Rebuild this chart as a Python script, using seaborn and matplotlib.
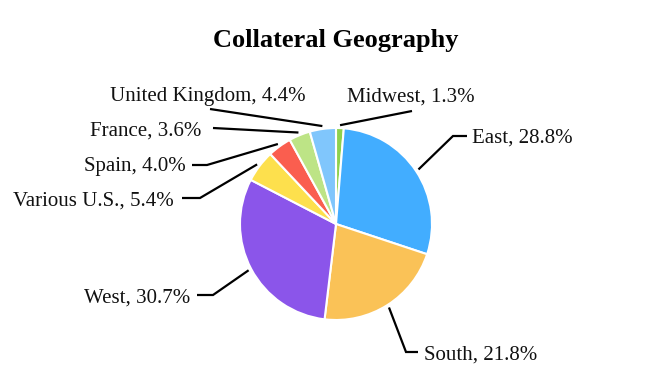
import numpy as np
import matplotlib
matplotlib.use("Agg")
import matplotlib.pyplot as plt
import seaborn as sns

# ---- data ----
categories = ["Midwest", "East", "South", "West", "Various U.S.", "Spain", "France", "United Kingdom"]
shares = [1.3, 28.8, 21.8, 30.7, 5.4, 4.0, 3.6, 4.4]
colors = ["#8ED14D", "#42ADFF", "#FAC257", "#8B55EA", "#FDE04D", "#FA5E4F", "#BDE486", "#80C6FC"]
title = "Collateral Geography"

# ---- layout (pixel coordinates, y from top) ----
W, H = 672, 384
CX, CY, R = 336, 224, 96
# per label: elbow point, end point of leader line, text anchor, alignment
elbows = [(412, 111), (453, 136), (406, 352), (213, 295), (200, 198), (207, 165), (213, 128), (210, 109)]
ends = [(412, 111), (467, 136), (418, 352), (197, 295), (182, 198), (192, 165), (213, 128), (210, 109)]
text_pos = [(347, 97), (472, 138), (424, 355), (190, 298), (174, 201), (186, 166), (201, 131), (306, 97)]
aligns = ["left", "left", "left", "right", "right", "right", "right", "right"]

sns.set_theme(style="white")
plt.rcParams["font.family"] = ["Liberation Serif", "DejaVu Serif"]

fig = plt.figure(figsize=(W / 100, H / 100), dpi=100)
ax = fig.add_axes([0, 0, 1, 1])

def Y(y):
    return H - y

wedges, _ = ax.pie(shares, colors=colors, startangle=90, counterclock=False,
                   radius=R, center=(CX, Y(CY)),
                   wedgeprops=dict(edgecolor="white", linewidth=1.5))
ax.set_xlim(0, W)
ax.set_ylim(0, H)
ax.set_aspect("auto")
ax.axis("off")

total = sum(shares)
cum = 0.0
for i, (cat, v) in enumerate(zip(categories, shares)):
    mid = cum + v / 2
    cum += v
    ang = np.deg2rad(90 - 360 * mid / total)
    sx = CX + 1.03 * R * np.cos(ang)
    sy = CY - 1.03 * R * np.sin(ang)
    ex, ey = elbows[i]
    fx, fy = ends[i]
    ax.plot([sx, ex, fx], [Y(sy), Y(ey), Y(fy)], color="black", lw=1.6,
            solid_capstyle="butt", solid_joinstyle="miter")
    tx, ty = text_pos[i]
    ax.text(tx, Y(ty), f"{cat}, {v:.1f}%", ha=aligns[i], va="center",
            fontsize=15, color="#111111")

ax.text(W / 2, Y(40), title, ha="center", va="center", fontsize=19,
        fontweight="bold", color="black")

fig.savefig("out.png", dpi=100)
